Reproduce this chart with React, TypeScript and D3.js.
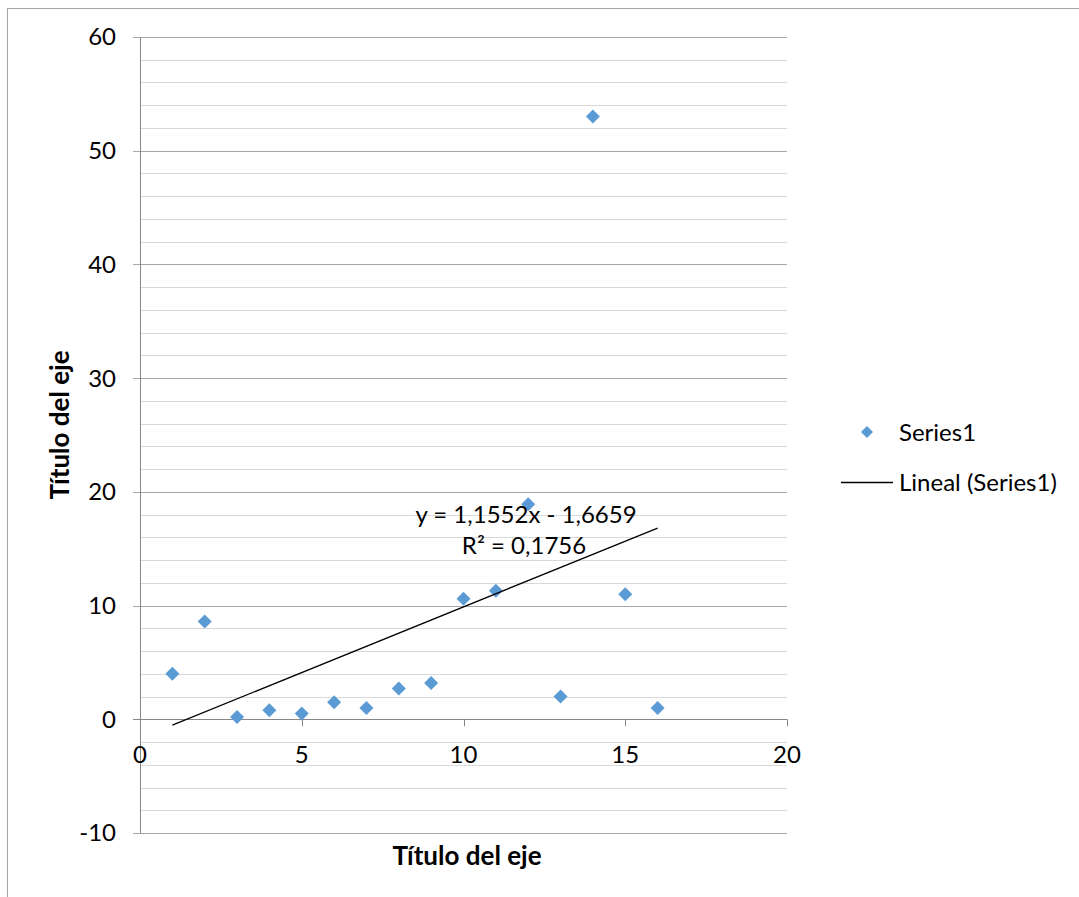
import React from "react";
import * as d3 from "d3";

const xValues = [1, 2, 3, 4, 5, 6, 7, 8, 9, 10, 11, 12, 13, 14, 15, 16];
const yValues = [4, 8.6, 0.2, 0.8, 0.5, 1.5, 1.0, 2.7, 3.2, 10.6, 11.3, 18.9, 2.0, 53, 11, 1.0];
const xTicks = [0, 5, 10, 15, 20];
const yTicks = [-10, 0, 10, 20, 30, 40, 50, 60];
const yMinorTicks = d3.range(-10, 61, 2);
const slope = 1.1552;
const intercept = -1.6659;
const equationLabel = "y = 1,1552x - 1,6659";
const r2Label = "R² = 0,1756";
const seriesName = "Series1";
const trendName = "Lineal (Series1)";
const axisTitle = "Título del eje";

const FONT = "Lato, 'Open Sans', 'Liberation Sans', sans-serif";

export default function App() {
  const W = 1079, H = 897;
  const x = d3.scaleLinear().domain([0, 20]).range([140, 787]);
  const y = d3.scaleLinear().domain([-10, 60]).range([833, 37]);
  const diamond = (cx: number, cy: number, r = 7) =>
    `M${cx},${cy - r}L${cx + r},${cy}L${cx},${cy + r}L${cx - r},${cy}Z`;
  const x0 = xValues[0], x1 = xValues[xValues.length - 1];
  const line = d3.line<number>().x((d) => x(d)).y((d) => y(slope * d + intercept));

  return (
    <svg width={W} height={H} style={{ position: "absolute", left: 0, top: 0 }} fontFamily={FONT}>
      <rect x={0} y={0} width={W} height={H} fill="#fff" />
      <rect x={7.5} y={8.5} width={W + 20} height={H + 20} fill="none" stroke="#a6a6a6" strokeWidth={1} />
      {yMinorTicks.filter((v) => v % 10 !== 0).map((v) => (
        <line key={"m" + v} x1={x(0)} x2={x(20)} y1={Math.round(y(v)) + 0.5} y2={Math.round(y(v)) + 0.5} stroke="#d9d9d9" strokeWidth={1} />
      ))}
      {yTicks.filter((v) => v !== 0).map((v) => (
        <line key={"g" + v} x1={x(0) - 7} x2={x(20)} y1={Math.round(y(v)) + 0.5} y2={Math.round(y(v)) + 0.5} stroke="#a6a6a6" strokeWidth={1} />
      ))}
      <line x1={x(0) + 0.5} x2={x(0) + 0.5} y1={y(60)} y2={y(-10)} stroke="#868686" strokeWidth={1} />
      <line x1={x(0) - 7} x2={x(20)} y1={Math.round(y(0)) + 0.5} y2={Math.round(y(0)) + 0.5} stroke="#868686" strokeWidth={1} />
      {xTicks.map((v) => (
        <line key={"xt" + v} x1={Math.round(x(v)) + 0.5} x2={Math.round(x(v)) + 0.5} y1={y(0)} y2={y(0) + 7} stroke="#868686" strokeWidth={1} />
      ))}
      {yTicks.map((v) => (
        <text key={"yl" + v} x={116} y={y(v)} dy="0.35em" textAnchor="end" fontSize={24} fill="#000">{v}</text>
      ))}
      {xTicks.map((v) => (
        <text key={"xl" + v} x={x(v)} y={y(0) + 35} dy="0.35em" textAnchor="middle" fontSize={24} fill="#000">{v}</text>
      ))}
      {xValues.map((xv, i) => (
        <path key={"p" + i} d={diamond(x(xv), y(yValues[i]))} fill="#5b9bd5" />
      ))}
      <path d={line([x0, x1]) || ""} fill="none" stroke="#000" strokeWidth={1.3} />
      <text x={526} y={515} dy="0.35em" textAnchor="middle" fontSize={24} fill="#000">{equationLabel}</text>
      <text x={524} y={546} dy="0.35em" textAnchor="middle" fontSize={24} fill="#000">{r2Label}</text>
      <text x={467} y={856} dy="0.35em" textAnchor="middle" fontSize={26} fontWeight="bold" fill="#000">{axisTitle}</text>
      <text transform="translate(60,425) rotate(-90)" dy="0.35em" textAnchor="middle" fontSize={26} fontWeight="bold" fill="#000">{axisTitle}</text>
      <path d={diamond(867, 432, 6)} fill="#5b9bd5" />
      <text x={899} y={433} dy="0.35em" fontSize={24} fill="#000">{seriesName}</text>
      <line x1={841} x2={893} y1={482.5} y2={482.5} stroke="#000" strokeWidth={1.3} />
      <text x={899} y={483} dy="0.35em" fontSize={24} fill="#000">{trendName}</text>
    </svg>
  );
}
